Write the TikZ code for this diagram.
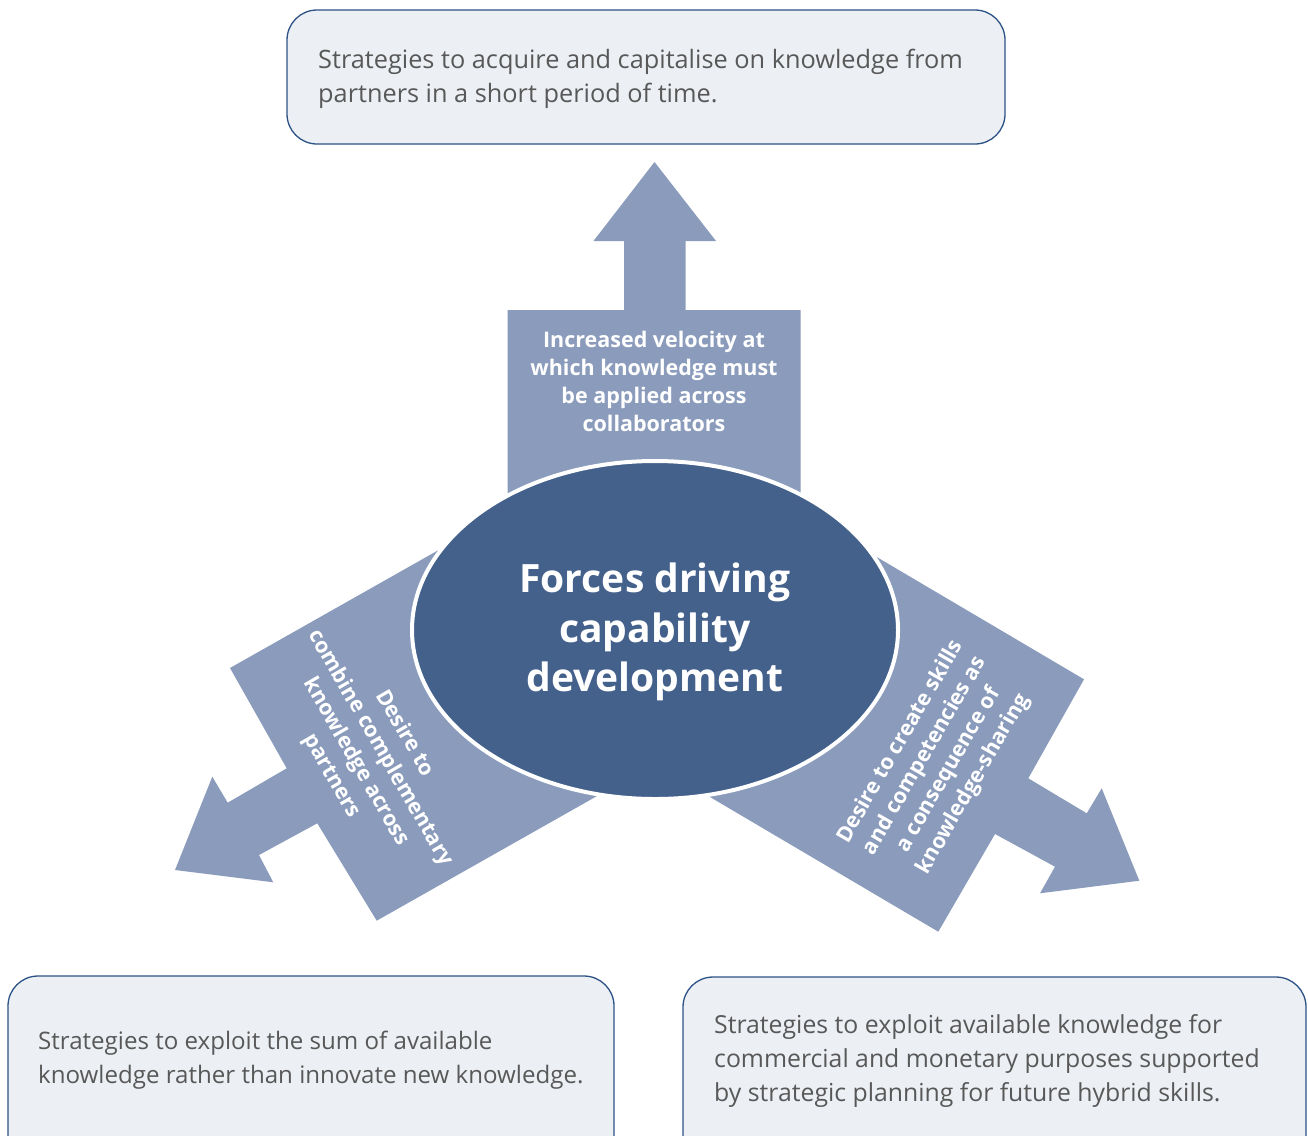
\documentclass[tikz,border=0pt]{standalone}
\usepackage{fontspec}
\setmainfont{Open Sans}
\definecolor{arrowblue}{RGB}{138,155,188}
\definecolor{coreblue}{RGB}{68,97,140}
\definecolor{boxfill}{RGB}{236,239,244}
\definecolor{boxline}{RGB}{44,82,134}
\definecolor{textgray}{RGB}{88,88,88}
\begin{document}
\begin{tikzpicture}[x=1pt,y=-1pt,
  forcearrow/.style={fill=arrowblue,draw=none},
  strategybox/.style={draw=boxline,line width=1.3pt,fill=boxfill,rounded corners=30pt},
  strategytext/.style={text=textgray,align=left,inner sep=0pt,anchor=west,
    font=\fontsize{#1}{34}\selectfont},
  strategytext/.default=24.8,
  forcetext/.style={text=white,align=center,inner sep=0pt,
    font=\bfseries\fontsize{21.5}{28}\selectfont},
  coretext/.style={text=white,align=center,inner sep=0pt,
    font=\bfseries\fontsize{39}{49.5}\selectfont},
]
\useasboundingbox (0,0) rectangle (1308,1135);
\clip (0,0) rectangle (1308,1135);

% strategy boxes
\draw[strategybox] (287,10) rectangle (1005,144);
\draw[strategybox] (8,976) rectangle (614,1165);
\draw[strategybox] (683,977) rectangle (1306,1165);

\node[strategytext=25.3] (acquire) at (318,79)
  {Strategies to acquire and capitalise on knowledge from\\partners in a short period of time.};
\node[strategytext=24.1] (exploitsum) at (38,1060)
  {Strategies to exploit the sum of available\\knowledge rather than innovate new knowledge.};
\node[strategytext] (exploitcomm) at (714,1061)
  {Strategies to exploit available knowledge for\\commercial and monetary purposes supported\\by strategic planning for future hybrid skills.};

% three force arrows
\fill[forcearrow] (507.7,496) -- (507.7,310) -- (624,310) -- (624,241) -- (593.5,241)
  -- (654.5,162) -- (716,241) -- (685.5,241) -- (685.5,310) -- (800.7,310) -- (800.7,496) -- cycle;
\fill[forcearrow] (491,520.4) -- (230,668) -- (286.7,768.3) -- (227.7,802.7) -- (212.3,776.7)
  -- (175,870) -- (273.3,882.3) -- (259,855) -- (317.3,823.3) -- (376.7,920.7) -- (637.7,773) -- cycle;
\fill[forcearrow] (825.7,526.9) -- (1084,679.3) -- (1028.3,778.3) -- (1086.7,813.3) -- (1101.7,788.3)
  -- (1139.3,880.7) -- (1040,893.3) -- (1055,866.7) -- (995,834) -- (938.3,931.7) -- (680,779.3) -- cycle;

% central ellipse
\draw[draw=white,line width=4pt,fill=coreblue] (655,630) ellipse [x radius=243, y radius=169];

\node[coretext] (core) at (655,632) {Forces driving\\capability\\development};
\node[forcetext] (velocity) at (654,381)
  {Increased velocity at\\which knowledge must\\be applied across\\collaborators};
\node[forcetext,rotate=-60] (combine) at (368,755)
  {Desire to\\combine complementary\\knowledge across\\partners};
\node[forcetext,rotate=60] (create) at (937,763)
  {Desire to create skills\\and competencies as\\a consequence of\\knowledge-sharing};
\end{tikzpicture}
\end{document}
